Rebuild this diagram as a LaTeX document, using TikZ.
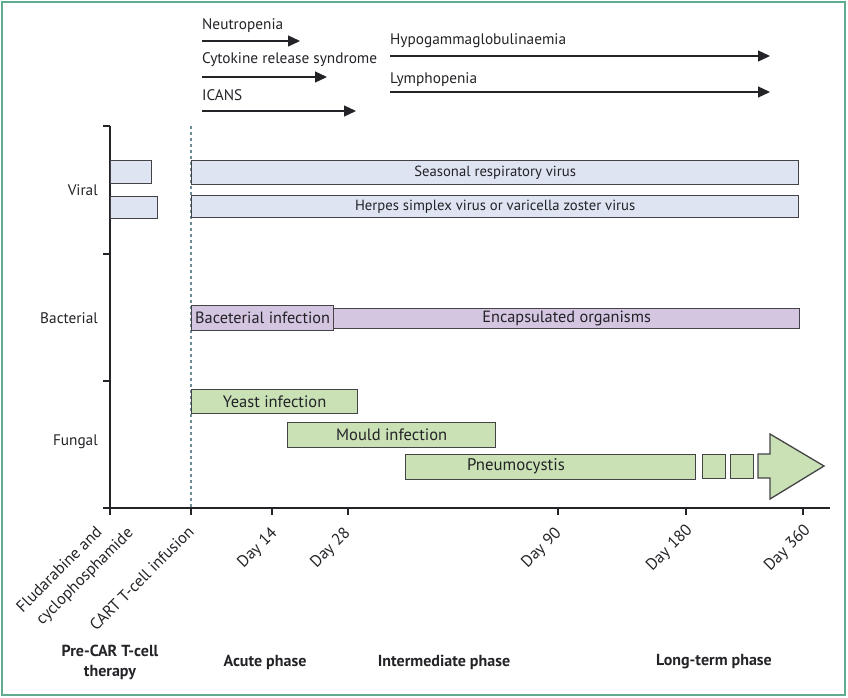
\documentclass[tikz,border=0pt]{standalone}
\usepackage{fontspec}
\setmainfont{PT Sans}
\usetikzlibrary{arrows.meta}
\definecolor{framec}{RGB}{96,172,142}
\definecolor{viralc}{RGB}{222,228,241}
\definecolor{bactc}{RGB}{212,197,225}
\definecolor{fungc}{RGB}{201,225,181}
\definecolor{edgec}{RGB}{68,68,72}
\definecolor{dashc}{RGB}{110,140,150}
\definecolor{textc}{RGB}{35,35,40}
\begin{document}
\begin{tikzpicture}[x=1pt,y=-1pt,
  every node/.style={text=textc},
  lab/.style={font=\fontsize{15.3}{18}\selectfont, inner sep=0pt},
  toparrow/.style={line width=1.3pt, draw=textc, -{Triangle[length=12pt,width=11pt]}},
  axis/.style={line width=1.3pt, draw=textc},
  bar/.style={draw=edgec, line width=1.3pt, anchor=north west, inner sep=0pt, font=\fontsize{16.3}{18}\selectfont},
  vbar/.style={bar, fill=viralc, font=\fontsize{14.7}{17}\selectfont},
  bbar/.style={bar, fill=bactc},
  fbar/.style={bar, fill=fungc, font=\fontsize{16.5}{19}\selectfont},
  ticklab/.style={font=\fontsize{16.3}{19}\selectfont, rotate=45, anchor=base east, inner sep=0pt},
  phase/.style={font=\bfseries\fontsize{16}{20}\selectfont, align=center, inner sep=0pt}
]
\useasboundingbox (0,0) rectangle (848,697);
\draw[draw=framec, line width=2pt] (2,2) rectangle (845,695);

% top arrows
\node[lab, anchor=base west] (neu) at (202,29) {Neutropenia};
\coordinate (neuA) at (202,41); \coordinate (neuB) at (300,41);
\draw[toparrow] (neuA) -- (neuB);
\node[lab, anchor=base west] (crs) at (202,63) {Cytokine release syndrome};
\coordinate (crsA) at (202,77); \coordinate (crsB) at (327,77);
\draw[toparrow] (crsA) -- (crsB);
\node[lab, anchor=base west] (icans) at (202,100) {ICANS};
\coordinate (icA) at (202,111); \coordinate (icB) at (356,111);
\draw[toparrow] (icA) -- (icB);
\node[lab, anchor=base west] (hypo) at (390,44) {Hypogammaglobulinaemia};
\coordinate (hyA) at (390,56); \coordinate (hyB) at (770,56);
\draw[toparrow] (hyA) -- (hyB);
\node[lab, anchor=base west] (lym) at (390,83) {Lymphopenia};
\coordinate (lyA) at (390,92); \coordinate (lyB) at (770,92);
\draw[toparrow] (lyA) -- (lyB);

% axes
\coordinate (ytop) at (110,126);
\coordinate (orig) at (110,508);
\coordinate (xend) at (830,508);
\draw[dashc, line width=1.1pt, dash pattern=on 3pt off 3pt] (191,126) -- (191,508);
\draw[axis] (ytop) -- (orig) -- (xend);
\foreach \y in {126,254,381,508} \draw[axis] (103,\y) -- (110,\y);
\foreach \x in {110,191,272,348,558,686,803} \draw[axis] (\x,508) -- (\x,515);

% category labels
\node[lab, anchor=east] (viral) at (98,190) {Viral};
\node[lab, anchor=east] (bacterial) at (98,318) {Bacterial};
\node[lab, anchor=east] (fungal) at (98,442) {Fungal};

% viral bars
\node[vbar, minimum width=41, minimum height=23] (pv1) at (110,160) {};
\node[vbar, minimum width=47, minimum height=22] (pv2) at (110,195.5) {};
\node[vbar, minimum width=607, minimum height=24] (srv) at (191,160) {Seasonal respiratory virus};
\node[vbar, minimum width=607, minimum height=22] (hsv) at (191,195) {Herpes simplex virus or varicella zoster virus};

% bacterial bars
\node[bbar, minimum width=466, minimum height=20] (enc) at (333,308) {Encapsulated organisms};
\node[bbar, minimum width=142, minimum height=25] (bac) at (191,305) {Baceterial infection};

% fungal bars
\node[fbar, minimum width=166, minimum height=24] (yeast) at (191,389) {Yeast infection};
\node[fbar, minimum width=208, minimum height=25] (mould) at (287,421.5) {Mould infection};
\node[fbar, minimum width=290, minimum height=25] (pneu) at (405,454) {};
\node[lab, font=\fontsize{16.8}{19}\selectfont] (pneutext) at (516,466) {Pneumocystis};
\node[fbar, minimum width=23, minimum height=24] (sq1) at (702,454) {};
\node[fbar, minimum width=23, minimum height=24] (sq2) at (730,454) {};
\draw[draw=edgec, fill=fungc, line width=1.3pt, line join=miter]
  (758,454) -- (770,454) -- (770,434) -- (824,466) -- (770,499) -- (770,478) -- (758,478) -- cycle;

% tick labels
\node[ticklab] (fl1) at (103,533) {Fludarabine and};
\node[ticklab] (fl2) at (134,534) {cyclophosphamide};
\node[ticklab] (cart) at (195,533) {CART T-cell infusion};
\node[ticklab] (d14) at (278,534) {Day 14};
\node[ticklab] (d28) at (351,534) {Day 28};
\node[ticklab] (d90) at (562,534) {Day 90};
\node[ticklab] (d180) at (693,531) {Day 180};
\node[ticklab] (d360) at (811,531) {Day 360};

% phases
\node[phase] (pre) at (110,662) {Pre-CAR T-cell\\therapy};
\node[phase] (acute) at (265,662) {Acute phase};
\node[phase] (inter) at (444,662) {Intermediate phase};
\node[phase] (long) at (714,662) {Long-term phase};
\end{tikzpicture}
\end{document}
